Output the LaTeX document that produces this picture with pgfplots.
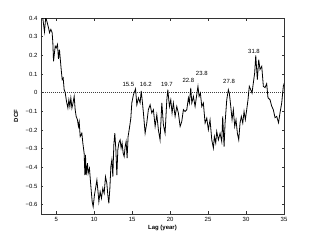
\documentclass[border=0pt]{standalone}
\usepackage{pgfplots}
\pgfplotsset{compat=1.18}
\usepackage{fontspec}
\setmainfont{Liberation Sans}
\begin{document}
\begin{tikzpicture}
\begin{axis}[
 scale only axis, width=243bp, height=196bp,
 xmin=3, xmax=35, ymin=-0.65, ymax=0.4,
 xtick={5,10,15,20,25,30,35},
 xticklabels={5,10,15,20,25,30,35},
 ytick={-0.6,-0.5,-0.4,-0.3,-0.2,-0.1,0,0.1,0.2,0.3,0.4},
 yticklabels={−0.6,−0.5,−0.4,−0.3,−0.2,−0.1,0,0.1,0.2,0.3,0.4},
 tick align=inside, major tick length=2.5bp,
 tick style={black!80, line width=0.4pt},
 axis line style={black!80, line width=0.5pt},
 ticklabel style={font=\fontsize{6}{7}\selectfont},
 xlabel={\textbf{Lag (year)}}, ylabel={\textbf{DCF}},
 label style={font=\fontsize{6}{7}\selectfont, inner sep=0pt},
 xlabel style={at={(axis description cs:0.5,-0.0714)}, anchor=center},
 ylabel style={at={(axis description cs:-0.103,0.5)}, anchor=center},
]
\addplot[black!75, line width=0.4pt, dash pattern=on 1pt off 1pt] coordinates {(3,0) (35,0)};
\addplot[black, line width=0.8pt] coordinates {
(3.09,0.446) (3.29,0.382) (3.46,0.326) (3.62,0.403) (3.78,0.382) (3.99,0.348)
(4.12,0.321) (4.30,0.339) (4.47,0.321) (4.56,0.267) (4.65,0.168) (4.87,0.249)
(5.00,0.240) (5.17,0.258) (5.30,0.181) (5.43,0.231) (5.66,0.124) (5.79,0.070)
(5.92,0.079) (6.05,0.016) (6.18,0.002) (6.36,-0.047) (6.54,-0.082) (6.67,-0.038)
(6.80,-0.074) (6.93,-0.028) (7.07,-0.082) (7.20,-0.059) (7.37,-0.020) (7.50,-0.091)
(7.63,-0.127) (7.80,-0.145) (7.93,-0.181) (8.03,-0.156) (8.16,-0.235) (8.38,-0.217)
(8.51,-0.270) (8.68,-0.324) (8.78,-0.441) (8.86,-0.333) (8.95,-0.441) (9.12,-0.378)
(9.21,-0.432) (9.38,-0.405) (9.57,-0.504) (9.74,-0.584) (9.87,-0.611) (10.04,-0.548)
(10.22,-0.504) (10.36,-0.468) (10.49,-0.522) (10.62,-0.584) (10.79,-0.531) (10.96,-0.566)
(11.14,-0.512) (11.32,-0.539) (11.49,-0.450) (11.67,-0.486) (11.80,-0.548) (11.93,-0.593)
(12.07,-0.512) (12.20,-0.396) (12.33,-0.360) (12.46,-0.450) (12.59,-0.280) (12.72,-0.217)
(12.86,-0.306) (12.99,-0.441) (13.12,-0.306) (13.25,-0.270) (13.42,-0.253) (13.55,-0.297)
(13.68,-0.270) (13.82,-0.324) (13.95,-0.342) (14.08,-0.289) (14.21,-0.262) (14.34,-0.351)
(14.47,-0.235) (14.61,-0.199) (14.74,-0.163) (14.83,-0.136) (14.96,-0.055) (15.17,-0.011)
(15.45,0.020) (15.62,-0.065) (15.83,-0.028) (16.05,-0.055) (16.20,0.010) (16.36,-0.055)
(16.49,-0.109) (16.71,-0.217) (16.93,-0.163) (17.14,-0.091) (17.37,-0.065) (17.59,-0.109)
(17.80,-0.091) (18.03,-0.181) (18.25,-0.118) (18.46,-0.199) (18.68,-0.253) (18.91,-0.055)
(19.12,-0.172) (19.34,-0.217) (19.57,-0.038) (19.70,0.016) (19.91,-0.074) (20.09,-0.038)
(20.26,-0.109) (20.43,-0.055) (20.66,-0.127) (20.88,-0.074) (21.09,-0.109) (21.32,-0.181)
(21.54,-0.154) (21.75,-0.091) (21.97,-0.101) (22.20,-0.091) (22.41,-0.028) (22.54,-0.055)
(22.72,0.025) (22.86,-0.055) (23.07,-0.020) (23.29,-0.074) (23.51,-0.011) (23.67,0.034)
(23.82,-0.020) (23.99,-0.002) (24.17,-0.074) (24.38,-0.055) (24.61,-0.163) (24.83,-0.136)
(25.04,-0.199) (25.26,-0.145) (25.49,-0.253) (25.70,-0.297) (25.83,-0.235) (26.01,-0.270)
(26.14,-0.208) (26.36,-0.253) (26.58,-0.217) (26.80,-0.262) (26.93,-0.127) (27.11,-0.289)
(27.24,-0.163) (27.46,-0.038) (27.67,0.016) (27.80,-0.002) (27.99,-0.074) (28.16,-0.145)
(28.33,-0.091) (28.51,-0.181) (28.68,-0.145) (28.86,-0.217) (29.04,-0.253) (29.21,-0.163)
(29.38,-0.127) (29.57,-0.163) (29.74,-0.101) (29.91,-0.145) (30.09,-0.091) (30.26,-0.038)
(30.43,0.034) (30.62,0.016) (30.79,-0.002) (30.96,0.052) (31.14,0.106) (31.28,0.199)
(31.49,0.070) (31.67,0.177) (31.84,0.124) (32.07,0.141) (32.28,0.034) (32.50,0.027)
(32.72,0.048) (32.89,-0.027) (33.16,-0.038) (33.36,-0.070) (33.59,-0.091) (33.82,-0.134)
(34.04,-0.127) (34.28,-0.161) (34.47,-0.109) (34.70,-0.055) (34.91,0.034) (35.04,0.052)
};
\node[font=\fontsize{6}{7}\selectfont] at (axis cs:14.51,0.043) {15.5};
\node[font=\fontsize{6}{7}\selectfont] at (axis cs:16.80,0.043) {16.2};
\node[font=\fontsize{6}{7}\selectfont] at (axis cs:19.57,0.043) {19.7};
\node[font=\fontsize{6}{7}\selectfont] at (axis cs:22.41,0.065) {22.8};
\node[font=\fontsize{6}{7}\selectfont] at (axis cs:24.17,0.102) {23.8};
\node[font=\fontsize{6}{7}\selectfont] at (axis cs:27.76,0.059) {27.8};
\node[font=\fontsize{6}{7}\selectfont] at (axis cs:31.05,0.220) {31.8};
\end{axis}
\path ([xshift=-41bp,yshift=-27bp]current axis.south west) rectangle ([xshift=30bp,yshift=18bp]current axis.north east);
\end{tikzpicture}
\end{document}
